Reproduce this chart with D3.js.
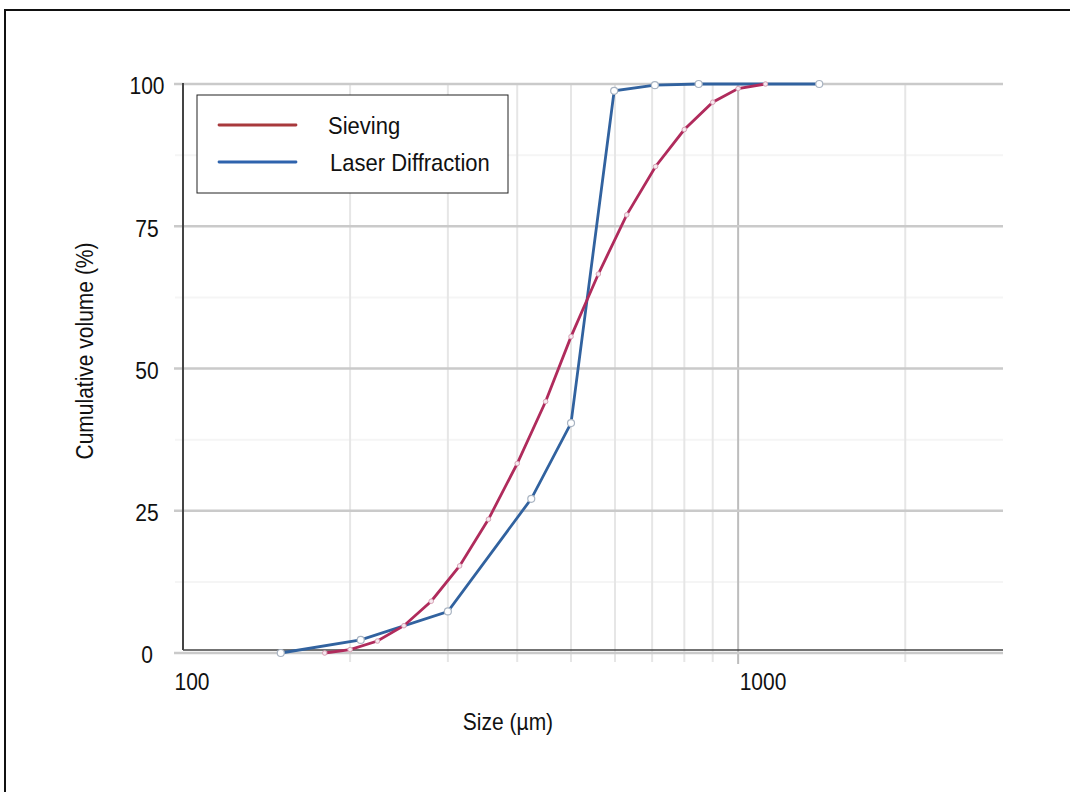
<!DOCTYPE html>
<html>
<head>
<meta charset="utf-8">
<script src="https://cdn.jsdelivr.net/npm/d3@7"></script>
<style>
  body { margin: 0; background: #fff; }
  svg { display: block; font-family: 'Liberation Sans', Arial, sans-serif; }
</style>
</head>
<body>
<svg id="chart"></svg>
<script>

// sieve fractions (µm) and cumulative volume (%)
var sieveSize = [180, 200, 224, 250, 280, 315, 355, 400, 450, 500, 560, 630, 710, 800, 900, 1000, 1120]
var sieveVolume = [0, 0.6, 2.1, 4.8, 9.1, 15.3, 23.5, 33.3, 44.2, 55.6, 66.6, 77.0, 85.5, 92.0, 96.8, 99.2, 100]

// laser diffraction
var laserSize = [150, 209, 300, 424, 500, 598, 708, 849, 1400]
var laserVolume = [0, 2.3, 7.3, 27.1, 40.4, 98.8, 99.8, 100, 100]

var xTicks = [100, 1000]
var xMinor = [200, 300, 400, 500, 600, 700, 800, 900, 2000]
var yTicks = [0, 25, 50, 75, 100]
var yMinor = [12.5, 37.5, 62.5, 87.5]

var seriesNames = ['Sieving', 'Laser Diffraction']

var W = 1070, H = 792
var svg = d3.select('#chart').attr('width', W).attr('height', H)

var x = d3.scaleLog().domain([100, 3000]).range([183, 1003])
var y = d3.scaleLinear().domain([0, 100]).range([653, 84])

// the original uses a narrow, tall face: keep the width, stretch the height
function narrow(sel, grow) {
    sel.each(function() {
        var t = d3.select(this)
        var w = this.getComputedTextLength()
        var fs = parseFloat(t.attr('font-size'))
        t.attr('font-size', (fs * grow) + 'px')
            .attr('textLength', w)
            .attr('lengthAdjust', 'spacingAndGlyphs')
    })
}

// outer frame
svg.append('rect')
    .attr('x', 5)
    .attr('y', 10)
    .attr('width', W + 10)
    .attr('height', H + 10)
    .attr('fill', 'none')
    .attr('stroke', '#111')
    .attr('stroke-width', 2)

// minor horizontal grid
svg.append('g')
    .selectAll('line')
    .data(yMinor)
    .join('line')
    .attr('x1', 175)
    .attr('x2', 1003)
    .attr('y1', d => y(d))
    .attr('y2', d => y(d))
    .attr('stroke', '#f5f5f5')
    .attr('stroke-width', 2)

// vertical grid
svg.append('g')
    .selectAll('line')
    .data(xMinor)
    .join('line')
    .attr('x1', d => x(d))
    .attr('x2', d => x(d))
    .attr('y1', y(100))
    .attr('y2', 662)
    .attr('stroke', '#e6e6e6')
    .attr('stroke-width', 2)

svg.append('line')
    .attr('x1', x(1000))
    .attr('x2', x(1000))
    .attr('y1', y(100))
    .attr('y2', 664)
    .attr('stroke', '#bdbdbd')
    .attr('stroke-width', 2)

// major horizontal grid
svg.append('g')
    .selectAll('line')
    .data(yTicks)
    .join('line')
    .attr('x1', 174)
    .attr('x2', 1003)
    .attr('y1', d => y(d))
    .attr('y2', d => y(d))
    .attr('stroke', '#cacaca')
    .attr('stroke-width', 2.5)

// axis lines
svg.append('line')
    .attr('x1', 183)
    .attr('x2', 183)
    .attr('y1', y(100) - 1)
    .attr('y2', 650)
    .attr('stroke', '#444')
    .attr('stroke-width', 2)

svg.append('line')
    .attr('x1', 183)
    .attr('x2', 1003)
    .attr('y1', 650)
    .attr('y2', 650)
    .attr('stroke', '#444')
    .attr('stroke-width', 1.5)

// tick labels
var yAxis = svg.append('g')
    .attr('transform', 'translate(183,0)')
    .call(d3.axisLeft(y).tickValues(yTicks).tickSize(0).tickPadding(36))
yAxis.select('.domain').remove()
yAxis.selectAll('text')
    .attr('text-anchor', 'middle')
    .attr('dy', '0.42em')
    .attr('font-size', '21px')
    .attr('font-family', 'Liberation Sans, Arial, sans-serif')
    .attr('fill', '#111')
    .call(narrow, 1.12)

var xAxis = svg.append('g')
    .attr('transform', 'translate(0,' + 653 + ')')
    .call(d3.axisBottom(x).tickValues(xTicks).tickFormat(d3.format('d')).tickSize(0).tickPadding(20))
xAxis.select('.domain').remove()
xAxis.selectAll('text')
    .attr('text-anchor', 'start')
    .attr('dx', d => d == 100 ? -9 : 1)
    .attr('font-size', '21px')
    .attr('font-family', 'Liberation Sans, Arial, sans-serif')
    .attr('fill', '#111')
    .call(narrow, 1.12)

// axis titles
svg.append('text')
    .text('Size (µm)')
    .attr('x', 508)
    .attr('y', 730)
    .attr('text-anchor', 'middle')
    .attr('font-size', '21px')
    .attr('fill', '#111')
    .call(narrow, 1.12)

svg.append('text')
    .text('Cumulative volume (%)')
    .attr('transform', 'translate(93,351) rotate(-90)')
    .attr('text-anchor', 'middle')
    .attr('font-size', '21px')
    .attr('fill', '#111')
    .call(narrow, 1.1)

// series
var line = d3.line()
    .x(d => x(d[0]))
    .y(d => y(d[1]))

var sieveData = sieveSize.map((s, i) => [s, sieveVolume[i]])
var laserData = laserSize.map((s, i) => [s, laserVolume[i]])

svg.append('path')
    .datum(laserData)
    .attr('d', line)
    .attr('fill', 'none')
    .attr('stroke', '#31629f')
    .attr('stroke-width', 2.8)

svg.append('path')
    .datum(sieveData)
    .attr('d', line)
    .attr('fill', 'none')
    .attr('stroke', '#b02b5c')
    .attr('stroke-width', 2.8)

svg.append('g')
    .selectAll('circle')
    .data(laserData)
    .join('circle')
    .attr('cx', d => x(d[0]))
    .attr('cy', d => y(d[1]))
    .attr('r', 3.5)
    .attr('fill', '#fff')
    .attr('stroke', '#a9b4c2')
    .attr('stroke-width', 1.2)

svg.append('g')
    .selectAll('circle')
    .data(sieveData)
    .join('circle')
    .attr('cx', d => x(d[0]))
    .attr('cy', d => y(d[1]))
    .attr('r', 2.3)
    .attr('fill', '#f6e8ee')
    .attr('stroke', '#d7a3b6')
    .attr('stroke-width', 1)

// legend
var legend = svg.append('g')

legend.append('rect')
    .attr('x', 197)
    .attr('y', 95)
    .attr('width', 311)
    .attr('height', 98)
    .attr('fill', '#fff')
    .attr('stroke', '#222')
    .attr('stroke-width', 1)

legend.selectAll('line')
    .data(seriesNames)
    .join('line')
    .attr('x1', 219)
    .attr('x2', 296)
    .attr('y1', (d, i) => 125 + i * 37)
    .attr('y2', (d, i) => 125 + i * 37)
    .attr('stroke', (d, i) => i == 0 ? '#a8393c' : '#2e63ad')
    .attr('stroke-width', 2.8)
    .attr('stroke-linecap', 'round')

legend.selectAll('text')
    .data(seriesNames)
    .join('text')
    .text(d => d)
    .attr('x', (d, i) => 328 + i * 2)
    .attr('y', (d, i) => 134 + i * 37)
    .attr('font-size', '22px')
    .attr('fill', '#111')
    .call(narrow, 1.1)

</script>
</body>
</html>
